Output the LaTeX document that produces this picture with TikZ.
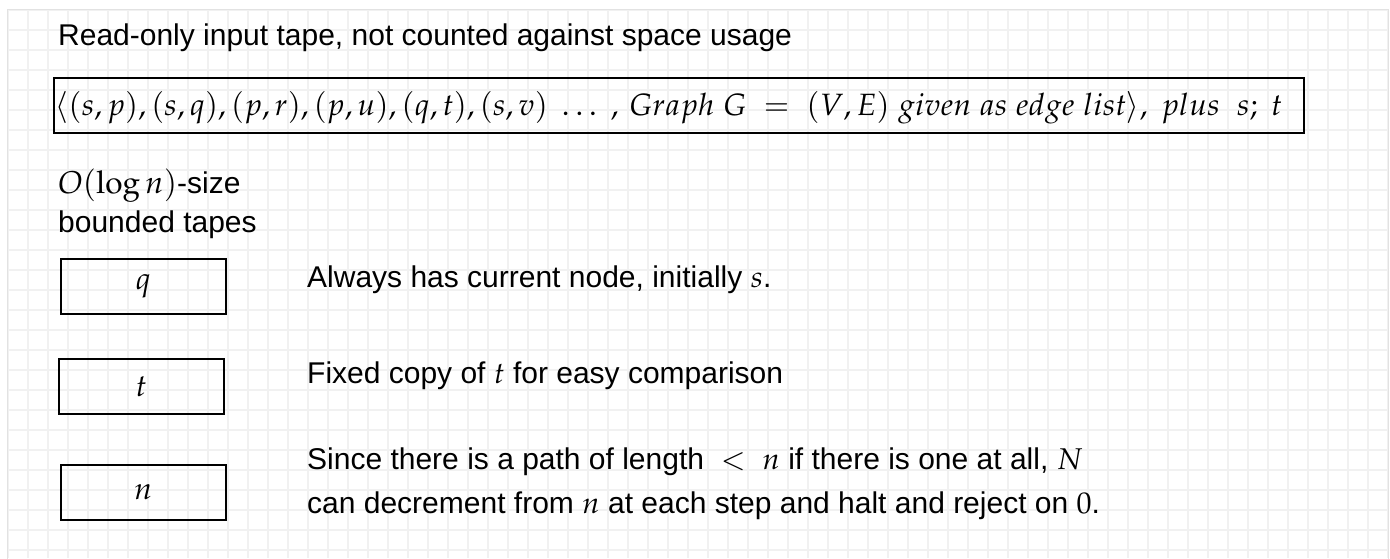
\documentclass[tikz,border=0pt]{standalone}
\usepackage{mathpazo}
\usepackage[no-math]{fontspec}
\setmainfont{Liberation Sans}
\usetikzlibrary{positioning}
\definecolor{gridline}{HTML}{F1F1F1}
\definecolor{pageedge}{HTML}{E2E2E2}
\tikzset{
  tapebox/.style={draw=black, line width=2pt, minimum width=165pt, minimum height=55pt, inner sep=0pt, font=\fontsize{31}{36}\selectfont},
  inputbox/.style={draw=black, line width=2.2pt, minimum width=1250pt, minimum height=55pt, inner sep=0pt, anchor=north west},
  inputtxt/.style={font=\fontsize{30.8}{36}\selectfont, inner sep=0pt, anchor=west},
  desc/.style={font=\fontsize{30}{36}\selectfont, inner sep=0pt, anchor=base west},
  grd/.style={draw=gridline, line width=1.2pt},
}
\begin{document}
\begin{tikzpicture}[x=1pt,y=-1pt]
  \useasboundingbox (0,0) rectangle (1390,558);
  \fill[white] (0,0) rectangle (1390,558);
  \foreach \gx in {8,28,...,1388} \draw[grd] (\gx,9) -- (\gx,558);
  \foreach \gy in {10,30,...,550} \draw[grd] (7,\gy) -- (1388,\gy);
  \draw[pageedge, line width=1pt] (7,560) -- (7,9) -- (1388,9) -- (1388,560);
  \node[desc] (title) at (58,45) {Read-only input tape, not counted against space usage};
  \node[inputbox] (inputtape) at (52.5,77) {};
  \node[inputtxt] (edgelist) at ([xshift=2.5pt,yshift=-2pt]inputtape.west) {$\langle(s,p),(s,q),(p,r),(p,u),(q,t),(s,v)\ \ldots\ ,\,Graph\ G\ =\ (V,E)\ given\ as\ edge\ list\rangle,\ plus\ \ s;\ t$};
  \node[desc] (logsize) at (58,193) {{\fontsize{31.5}{36}\selectfont$O(\log n)$}-size};
  \node[desc] (bounded) at (58,232) {bounded tapes};
  \node[tapebox] (tq) at (143.3,286.5) {$q$};
  \node[tapebox] (tt) at (141.3,386.5) {$t$};
  \node[tapebox] (tn) at (143.3,492.5) {$n$};
  \node[desc] (dq) at (307,287) {Always has current node, initially $s$.};
  \node[desc] (dt) at (307,383) {Fixed copy of $t$ for easy comparison};
  \node[desc] (dn1) at (307,469) {Since there is a path of length $\ <\ n$ if there is one at all, $N$};
  \node[desc] (dn2) at (307,513) {can decrement from $n$ at each step and halt and reject on $0$.};
\end{tikzpicture}
\end{document}
